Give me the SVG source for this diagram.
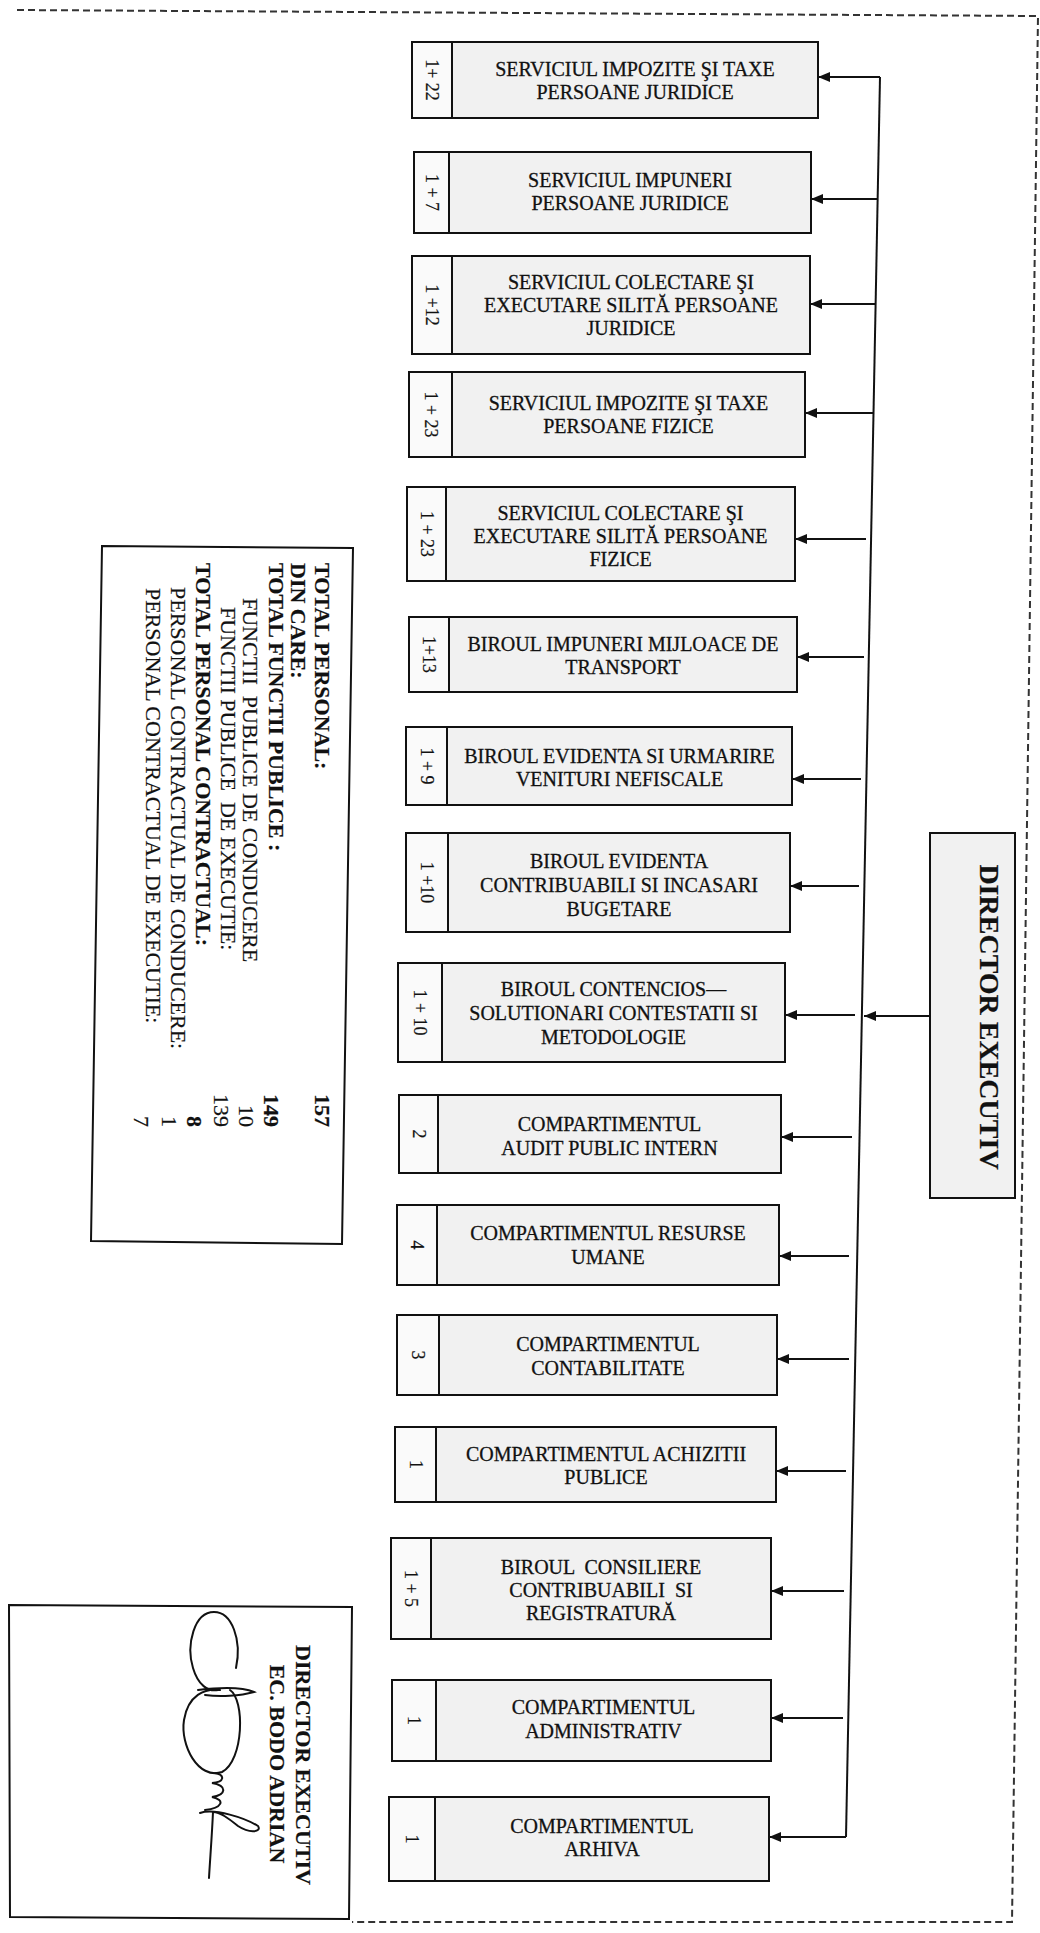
<svg xmlns="http://www.w3.org/2000/svg" width="1040" height="1933" viewBox="0 0 1040 1933">
<style>
.bg{fill:#ffffff}
.box{fill:#f1f1f1;stroke:#111;stroke-width:2}
.num{fill:#fafafa;stroke:#111;stroke-width:2}
.panel{fill:#ffffff;stroke:#111;stroke-width:2}
.t{font-family:'Liberation Serif','Times New Roman',serif;font-size:20px;fill:#111;text-anchor:middle;stroke:#111;stroke-width:0.3}
.n{font-family:'Liberation Serif','Times New Roman',serif;font-size:18px;fill:#111;text-anchor:middle;stroke:#111;stroke-width:0.2}
.p{font-family:'Liberation Serif','Times New Roman',serif;font-size:22px;fill:#111;stroke:#111;stroke-width:0.2}
.b{font-weight:bold}
.end{text-anchor:end}
.mid{text-anchor:middle}
.conn{stroke:#111;stroke-width:2;fill:none}
.dash{stroke:#333;stroke-width:2;stroke-dasharray:7 4;fill:none}
.sig{stroke:#111;stroke-width:2;fill:none;stroke-linecap:round}
</style>
<defs>
<marker id="ah" markerUnits="userSpaceOnUse" markerWidth="12" markerHeight="10" refX="12" refY="5" orient="auto">
<path d="M0,0 L12,5 L0,10 z" fill="#111"/>
</marker>
</defs>
<rect class="bg" x="0" y="0" width="1040" height="1933"/>
<g id="frame">
<path class="dash" d="M17,10 L1038,16 L1012,1922 L352,1922"/>
</g>

<g id="connectors">
<path class="conn" d="M880,77 L846,1837"/>
<path class="conn" marker-end="url(#ah)" d="M880,77 L818,77"/>
<path class="conn" marker-end="url(#ah)" d="M877.6,199 L811,199"/>
<path class="conn" marker-end="url(#ah)" d="M875.6,304 L810,304"/>
<path class="conn" marker-end="url(#ah)" d="M873.5,413 L805,413"/>
<path class="conn" marker-end="url(#ah)" d="M866,539 L795,539"/>
<path class="conn" marker-end="url(#ah)" d="M864,657 L797,657"/>
<path class="conn" marker-end="url(#ah)" d="M861,779 L792,779"/>
<path class="conn" marker-end="url(#ah)" d="M859,886 L790,886"/>
<path class="conn" marker-end="url(#ah)" d="M855,1015 L785,1015"/>
<path class="conn" marker-end="url(#ah)" d="M852,1137 L781,1137"/>
<path class="conn" marker-end="url(#ah)" d="M849,1256 L779,1256"/>
<path class="conn" marker-end="url(#ah)" d="M849,1359 L777,1359"/>
<path class="conn" marker-end="url(#ah)" d="M846,1471 L776,1471"/>
<path class="conn" marker-end="url(#ah)" d="M844,1591 L771,1591"/>
<path class="conn" marker-end="url(#ah)" d="M843,1718 L771,1718"/>
<path class="conn" marker-end="url(#ah)" d="M846,1837 L769,1837"/>
<path class="conn" marker-end="url(#ah)" d="M930,1016 L864,1016"/>
</g>

<g id="director">
<rect class="box" x="930" y="833" width="85" height="365"/>
<text class="p b mid" style="font-size:28px" transform="translate(980,1017) rotate(90)">DIRECTOR EXECUTIV</text>
</g>

<g id="n1">
<rect class="num" x="412" y="42" width="40" height="76"/>
<rect class="box" x="452" y="42" width="366" height="76"/>
<text class="n" transform="translate(426,80) rotate(90)">1+ 22</text>
<text class="t" x="635" y="76">SERVICIUL IMPOZITE ŞI TAXE</text>
<text class="t" x="635" y="99">PERSOANE JURIDICE</text>
</g>
<g id="n2">
<rect class="num" x="414" y="152" width="35" height="81"/>
<rect class="box" x="449" y="152" width="362" height="81"/>
<text class="n" transform="translate(425.5,192.5) rotate(90)">1 + 7</text>
<text class="t" x="630" y="187">SERVICIUL IMPUNERI</text>
<text class="t" x="630" y="210">PERSOANE JURIDICE</text>
</g>
<g id="n3">
<rect class="num" x="412" y="256" width="40" height="98"/>
<rect class="box" x="452" y="256" width="358" height="98"/>
<text class="n" transform="translate(426,305) rotate(90)">1 +12</text>
<text class="t" x="631" y="289">SERVICIUL COLECTARE ŞI</text>
<text class="t" x="631" y="312">EXECUTARE SILITĂ PERSOANE</text>
<text class="t" x="631" y="335">JURIDICE</text>
</g>
<g id="n4">
<rect class="num" x="409" y="372" width="43" height="85"/>
<rect class="box" x="452" y="372" width="353" height="85"/>
<text class="n" transform="translate(424.5,414.5) rotate(90)">1 + 23</text>
<text class="t" x="628.5" y="410">SERVICIUL IMPOZITE ŞI TAXE</text>
<text class="t" x="628.5" y="433">PERSOANE FIZICE</text>
</g>
<g id="n5">
<rect class="num" x="407" y="487" width="39" height="94"/>
<rect class="box" x="446" y="487" width="349" height="94"/>
<text class="n" transform="translate(420.5,534) rotate(90)">1 + 23</text>
<text class="t" x="620.5" y="520">SERVICIUL COLECTARE ŞI</text>
<text class="t" x="620.5" y="543">EXECUTARE SILITĂ PERSOANE</text>
<text class="t" x="620.5" y="566">FIZICE</text>
</g>
<g id="n6">
<rect class="num" x="409" y="617" width="40" height="75"/>
<rect class="box" x="449" y="617" width="348" height="75"/>
<text class="n" transform="translate(423,654.5) rotate(90)">1+13</text>
<text class="t" x="623" y="651">BIROUL IMPUNERI MIJLOACE DE</text>
<text class="t" x="623" y="674">TRANSPORT</text>
</g>
<g id="n7">
<rect class="num" x="406" y="727" width="41" height="78"/>
<rect class="box" x="447" y="727" width="345" height="78"/>
<text class="n" transform="translate(420.5,766) rotate(90)">1 + 9</text>
<text class="t" x="619.5" y="763">BIROUL EVIDENTA SI URMARIRE</text>
<text class="t" x="619.5" y="786">VENITURI NEFISCALE</text>
</g>
<g id="n8">
<rect class="num" x="406" y="833" width="42" height="99"/>
<rect class="box" x="448" y="833" width="342" height="99"/>
<text class="n" transform="translate(421,882.5) rotate(90)">1 +10</text>
<text class="t" x="619" y="868">BIROUL EVIDENTA</text>
<text class="t" x="619" y="892">CONTRIBUABILI SI INCASARI</text>
<text class="t" x="619" y="916">BUGETARE</text>
</g>
<g id="n9">
<rect class="num" x="398" y="963" width="44" height="99"/>
<rect class="box" x="442" y="963" width="343" height="99"/>
<text class="n" transform="translate(414,1012.5) rotate(90)">1 + 10</text>
<text class="t" x="613.5" y="996">BIROUL CONTENCIOS—</text>
<text class="t" x="613.5" y="1020">SOLUTIONARI CONTESTATII SI</text>
<text class="t" x="613.5" y="1044">METODOLOGIE</text>
</g>
<g id="n10">
<rect class="num" x="399" y="1095" width="39" height="78"/>
<rect class="box" x="438" y="1095" width="343" height="78"/>
<text class="n" transform="translate(412.5,1134) rotate(90)">2</text>
<text class="t" x="609.5" y="1131">COMPARTIMENTUL</text>
<text class="t" x="609.5" y="1155">AUDIT PUBLIC INTERN</text>
</g>
<g id="n11">
<rect class="num" x="397" y="1205" width="40" height="80"/>
<rect class="box" x="437" y="1205" width="342" height="80"/>
<text class="n" transform="translate(411,1245) rotate(90)">4</text>
<text class="t" x="608" y="1240">COMPARTIMENTUL RESURSE</text>
<text class="t" x="608" y="1264">UMANE</text>
</g>
<g id="n12">
<rect class="num" x="397" y="1315" width="42" height="80"/>
<rect class="box" x="439" y="1315" width="338" height="80"/>
<text class="n" transform="translate(412,1355) rotate(90)">3</text>
<text class="t" x="608" y="1351">COMPARTIMENTUL</text>
<text class="t" x="608" y="1375">CONTABILITATE</text>
</g>
<g id="n13">
<rect class="num" x="395" y="1427" width="41" height="75"/>
<rect class="box" x="436" y="1427" width="340" height="75"/>
<text class="n" transform="translate(409.5,1464.5) rotate(90)">1</text>
<text class="t" x="606" y="1461">COMPARTIMENTUL ACHIZITII</text>
<text class="t" x="606" y="1484">PUBLICE</text>
</g>
<g id="n14">
<rect class="num" x="391" y="1538" width="40" height="101"/>
<rect class="box" x="431" y="1538" width="340" height="101"/>
<text class="n" transform="translate(405,1588.5) rotate(90)">1 + 5</text>
<text class="t" x="601" y="1574" xml:space="preserve">BIROUL  CONSILIERE</text>
<text class="t" x="601" y="1597" xml:space="preserve">CONTRIBUABILI  SI</text>
<text class="t" x="601" y="1620">REGISTRATURĂ</text>
</g>
<g id="n15">
<rect class="num" x="392" y="1680" width="44" height="81"/>
<rect class="box" x="436" y="1680" width="335" height="81"/>
<text class="n" transform="translate(408,1720.5) rotate(90)">1</text>
<text class="t" x="603.5" y="1714">COMPARTIMENTUL</text>
<text class="t" x="603.5" y="1738">ADMINISTRATIV</text>
</g>
<g id="n16">
<rect class="num" x="389" y="1797" width="46" height="84"/>
<rect class="box" x="435" y="1797" width="334" height="84"/>
<text class="n" transform="translate(406,1839) rotate(90)">1</text>
<text class="t" x="602" y="1833">COMPARTIMENTUL</text>
<text class="t" x="602" y="1856">ARHIVA</text>
</g>

<g id="totals">
<path class="panel" d="M102,546 L353,548 L342,1244 L91,1241 Z"/>
<text class="p b" transform="translate(315,563) rotate(90)">TOTAL PERSONAL:</text>
<text class="p b" transform="translate(291,563) rotate(90)">DIN CARE:</text>
<text class="p b" transform="translate(269,563) rotate(90)">TOTAL FUNCTII PUBLICE :</text>
<text class="p" transform="translate(243,598) rotate(90)" xml:space="preserve">FUNCTII  PUBLICE DE CONDUCERE</text>
<text class="p" transform="translate(221,607) rotate(90)" xml:space="preserve">FUNCTII PUBLICE  DE EXECUTIE:</text>
<text class="p b" transform="translate(196,563) rotate(90)">TOTAL PERSONAL CONTRACTUAL:</text>
<text class="p" transform="translate(171,587) rotate(90)">PERSONAL CONTRACTUAL DE CONDUCERE:</text>
<text class="p" transform="translate(146,588) rotate(90)">PERSONAL CONTRACTUAL DE EXECUTIE:</text>
<text class="p b end" transform="translate(315,1127) rotate(90)">157</text>
<text class="p b end" transform="translate(264,1127) rotate(90)">149</text>
<text class="p end" transform="translate(239,1127) rotate(90)">10</text>
<text class="p end" transform="translate(214,1127) rotate(90)">139</text>
<text class="p b end" transform="translate(187,1127) rotate(90)">8</text>
<text class="p end" transform="translate(162,1127) rotate(90)">1</text>
<text class="p end" transform="translate(134,1127) rotate(90)">7</text>
</g>

<g id="signature">
<path class="panel" d="M9,1605 L352,1607 L349,1919 L10,1917 Z"/>
<text class="p b mid" transform="translate(296,1765) rotate(90)">DIRECTOR EXECUTIV</text>
<text class="p b mid" transform="translate(270,1764) rotate(90)">EC. BODO ADRIAN</text>
<path class="sig" d="M236,1668 C242,1640 232,1612 214,1612 C194,1612 186,1645 193,1668 C198,1685 208,1692 218,1690"/>
<path class="sig" d="M198,1690 C215,1688 240,1686 254,1692 C240,1696 220,1697 205,1695"/>
<path class="sig" d="M230,1690 C245,1700 244,1760 222,1772 C198,1780 180,1745 184,1720 C188,1695 205,1688 220,1690"/>
<path class="sig" d="M215,1773 C225,1775 225,1782 212,1783 C228,1786 226,1795 212,1797 C226,1800 222,1808 205,1810"/>
<path class="sig" d="M200,1813 C215,1808 245,1818 258,1826 C262,1832 250,1834 238,1826 C228,1818 220,1812 213,1812"/>
<path class="sig" d="M213,1812 C212,1835 210,1860 209,1878"/>
</g>
</svg>
